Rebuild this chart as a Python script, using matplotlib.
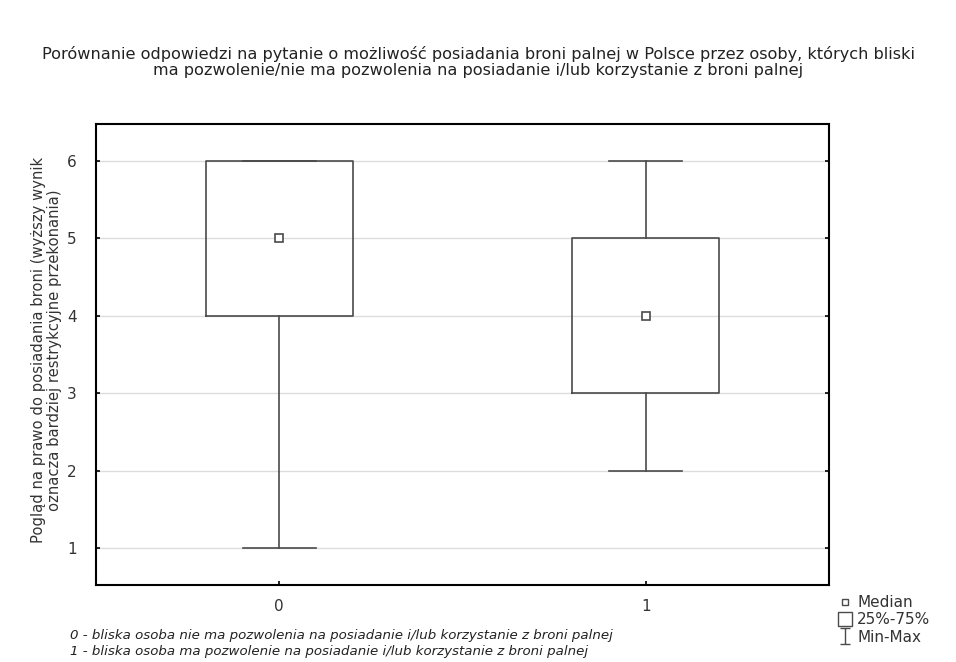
import matplotlib
matplotlib.use("Agg")
import matplotlib.pyplot as plt
from matplotlib.lines import Line2D
from matplotlib.path import Path

plt.rcParams['font.family'] = ['DejaVu Sans']

groups = ["0", "1"]
medians = [5, 4]
q1 = [4, 3]
q3 = [6, 5]
mins = [1, 2]
maxs = [6, 6]
yticks = [1, 2, 3, 4, 5, 6]

title = ("Porównanie odpowiedzi na pytanie o możliwość posiadania broni palnej w Polsce przez osoby, których bliski\n"
         "ma pozwolenie/nie ma pozwolenia na posiadanie i/lub korzystanie z broni palnej")
ylabel = ("Pogląd na prawo do posiadania broni (wyższy wynik\n"
          "oznacza bardziej restrykcyjne przekonania)")
notes = ["0 - bliska osoba nie ma pozwolenia na posiadanie i/lub korzystanie z broni palnej",
         "1 - bliska osoba ma pozwolenie na posiadanie i/lub korzystanie z broni palnej"]

line_col = '#4a4a4a'
text_col = '#333333'

fig = plt.figure(figsize=(9.56, 6.62), dpi=100)
ax = fig.add_axes([0.1004, 0.1163, 0.7667, 0.6964])

stats = []
for i, g in enumerate(groups):
    stats.append({'label': g, 'med': medians[i], 'q1': q1[i], 'q3': q3[i],
                  'whislo': mins[i], 'whishi': maxs[i], 'fliers': []})

pos = list(range(len(groups)))
ax.bxp(stats, positions=pos, widths=0.4, showfliers=False,
       boxprops=dict(color=line_col, linewidth=1.2),
       whiskerprops=dict(color=line_col, linewidth=1.2),
       capprops=dict(color=line_col, linewidth=1.2),
       medianprops=dict(linestyle='none'),
       capwidths=0.2, zorder=3)
ax.plot(pos, medians, linestyle='none', marker='s', markersize=6,
        markerfacecolor='white', markeredgecolor=line_col, markeredgewidth=1.2, zorder=4)

ax.set_xlim(-0.5, 1.5)
ax.set_ylim(0.52, 6.48)
ax.set_yticks(yticks)
ax.set_xticks(pos)
ax.set_xticklabels(groups)
ax.yaxis.grid(True, color='#dddddd', linewidth=1)
ax.set_axisbelow(True)
ax.tick_params(direction='in', length=3, width=1.2, labelsize=11, colors='black',
               labelcolor=text_col, right=True, top=False)
ax.tick_params(axis='y', pad=14)
ax.tick_params(axis='x', pad=10)
for s in ax.spines.values():
    s.set_linewidth(1.5)
ax.set_ylabel(ylabel, fontsize=10.6, color=text_col, linespacing=1.05)
ax.yaxis.set_label_coords(-0.047, 0.51)

fig.suptitle(title, fontsize=11.6, color='#222222', y=0.93, linespacing=1.05)

fig.text(0.073, 0.035, notes[0], fontsize=9.6, style='italic', color='#222222')
fig.text(0.073, 0.011, notes[1], fontsize=9.6, style='italic', color='#222222')

ibeam = Path([(-0.6, 1), (0.6, 1), (0, 1), (0, -1), (-0.6, -1), (0.6, -1)],
             [Path.MOVETO, Path.LINETO, Path.MOVETO, Path.LINETO, Path.MOVETO, Path.LINETO])
handles = [
    Line2D([], [], linestyle='none', marker='s', markersize=4.5, markerfacecolor='white',
           markeredgecolor=line_col, markeredgewidth=1),
    Line2D([], [], linestyle='none', marker='s', markersize=10, markerfacecolor='white',
           markeredgecolor=line_col, markeredgewidth=1),
    Line2D([], [], linestyle='none', marker=ibeam, markersize=11, markerfacecolor='none',
           markeredgecolor=line_col, markeredgewidth=1),
]
fig.legend(handles, ["Median", "25%-75%", "Min-Max"], loc='upper left',
           bbox_to_anchor=(0.868, 0.1126), frameon=False, fontsize=11,
           handlelength=1.0, handletextpad=0.3, labelspacing=0.15, borderpad=0,
           labelcolor=text_col)

fig.savefig("out.png", dpi=100)
